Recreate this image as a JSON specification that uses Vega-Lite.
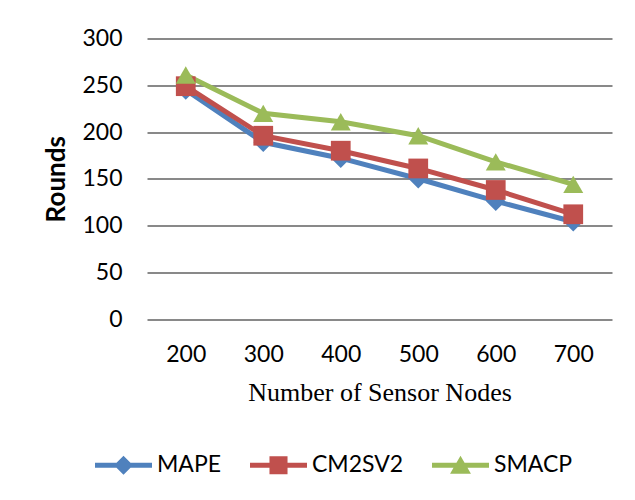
{
  "$schema": "https://vega.github.io/schema/vega-lite/v6.json",
  "autosize": {"type": "none"},
  "width": 465,
  "height": 280.5,
  "padding": {"left": 147, "top": 38.5, "right": 23, "bottom": 181},
  "background": "white",
  "data": {
    "values": [
      {"nodes": "200", "series": "MAPE", "rounds": 245},
      {"nodes": "300", "series": "MAPE", "rounds": 189},
      {"nodes": "400", "series": "MAPE", "rounds": 172},
      {"nodes": "500", "series": "MAPE", "rounds": 150},
      {"nodes": "600", "series": "MAPE", "rounds": 126},
      {"nodes": "700", "series": "MAPE", "rounds": 104},
      {"nodes": "200", "series": "CM2SV2", "rounds": 249},
      {"nodes": "300", "series": "CM2SV2", "rounds": 196},
      {"nodes": "400", "series": "CM2SV2", "rounds": 180},
      {"nodes": "500", "series": "CM2SV2", "rounds": 161},
      {"nodes": "600", "series": "CM2SV2", "rounds": 138},
      {"nodes": "700", "series": "CM2SV2", "rounds": 112},
      {"nodes": "200", "series": "SMACP", "rounds": 261},
      {"nodes": "300", "series": "SMACP", "rounds": 220},
      {"nodes": "400", "series": "SMACP", "rounds": 211},
      {"nodes": "500", "series": "SMACP", "rounds": 196},
      {"nodes": "600", "series": "SMACP", "rounds": 168},
      {"nodes": "700", "series": "SMACP", "rounds": 144}
    ]
  },
  "encoding": {
    "x": {
      "field": "nodes",
      "type": "ordinal",
      "sort": null,
      "scale": {"padding": 0.5},
      "axis": {
        "title": "Number of Sensor Nodes",
        "titleFont": "Liberation Serif",
        "titleFontSize": 26,
        "titleFontWeight": "normal",
        "titleColor": "black",
        "titlePadding": 13,
        "labelFont": "Lato",
        "labelFontSize": 23,
        "labelColor": "black",
        "labelAngle": 0,
        "labelPadding": 24,
        "domain": false,
        "ticks": false,
        "grid": false
      }
    },
    "y": {
      "field": "rounds",
      "type": "quantitative",
      "scale": {"domain": [0, 300], "nice": false},
      "axis": {
        "title": "Rounds",
        "titleFont": "Lato",
        "titleFontSize": 26,
        "titleFontWeight": "bold",
        "titleColor": "black",
        "titlePadding": 12,
        "labelFont": "Lato",
        "labelFontSize": 23,
        "labelColor": "black",
        "labelPadding": 25,
        "values": [0, 50, 100, 150, 200, 250, 300],
        "domain": false,
        "ticks": false,
        "grid": true,
        "gridColor": "#898989",
        "gridWidth": 2
      }
    }
  },
  "layer": [
    {
      "mark": {"type": "line", "strokeWidth": 5},
      "encoding": {
        "color": {
          "field": "series",
          "type": "nominal",
          "scale": {"domain": ["MAPE", "CM2SV2", "SMACP"], "range": ["#4F81BD", "#C0504D", "#9BBB59"]},
          "legend": null
        }
      }
    },
    {
      "mark": {"type": "point", "filled": true, "opacity": 1},
      "encoding": {
        "color": {
          "field": "series",
          "type": "nominal",
          "scale": {"domain": ["MAPE", "CM2SV2", "SMACP"], "range": ["#4F81BD", "#C0504D", "#9BBB59"]},
          "legend": null
        },
        "shape": {
          "field": "series",
          "type": "nominal",
          "scale": {"domain": ["MAPE", "CM2SV2", "SMACP"], "range": ["diamond", "square", "triangle-up"]},
          "legend": null
        },
        "size": {
          "field": "series",
          "type": "nominal",
          "scale": {"domain": ["MAPE", "CM2SV2", "SMACP"], "range": [380, 400, 440]},
          "legend": null
        }
      }
    },
    {
      "mark": {"type": "point", "filled": true, "opacity": 0},
      "encoding": {
        "color": {
          "field": "series",
          "type": "nominal",
          "scale": {"domain": ["MAPE", "CM2SV2", "SMACP"], "range": ["#4F81BD", "#C0504D", "#9BBB59"]},
          "legend": {
            "title": null,
            "orient": "none",
            "legendX": -35,
            "legendY": 415,
            "direction": "horizontal",
            "symbolSize": 361,
            "symbolOpacity": 1,
            "symbolStrokeWidth": 0,
            "labelFont": "Lato",
            "labelFontSize": 23,
            "labelColor": "black",
            "labelOffset": 22,
            "columnPadding": 28,
            "padding": 0
          }
        },
        "shape": {
          "field": "series",
          "type": "nominal",
          "scale": {
            "domain": ["MAPE", "CM2SV2", "SMACP"],
            "range": [
              "M-3,-0.26H3V0.26H-3Z M0,-1L1,0L0,1L-1,0Z",
              "M-3,-0.26H3V0.26H-3Z M-0.95,-0.95H0.95V0.95H-0.95Z",
              "M-3,-0.26H3V0.26H-3Z M0,-1L1.1,0.9H-1.1Z"
            ]
          },
          "legend": {
            "title": null,
            "orient": "none",
            "legendX": -35,
            "legendY": 415,
            "direction": "horizontal",
            "symbolSize": 361,
            "symbolOpacity": 1,
            "symbolStrokeWidth": 0,
            "labelFont": "Lato",
            "labelFontSize": 23,
            "labelColor": "black",
            "labelOffset": 22,
            "columnPadding": 28,
            "padding": 0
          }
        }
      }
    }
  ],
  "resolve": {"scale": {"shape": "independent", "color": "independent", "size": "independent"}},
  "config": {"view": {"stroke": null}}
}
